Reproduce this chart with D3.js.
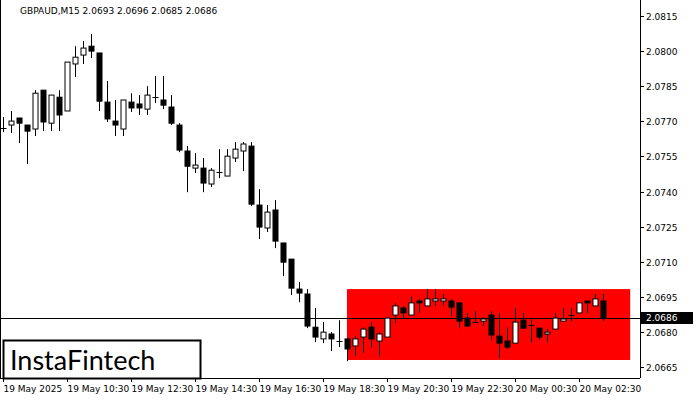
<!DOCTYPE html>
<html><head><meta charset="utf-8">
<script src="https://cdn.jsdelivr.net/npm/d3@7"></script>
<style>body{margin:0;background:#fff}svg{font-family:"DejaVu Sans",sans-serif}</style>
</head><body><svg id="c" width="700" height="400"></svg>
<script>
// candles as [open, high, low, close], 15 minute bars from 19 May 08:30
const opens  = [2.07667,2.07684,2.07714,2.07684,2.07667,2.07833,2.07692,2.07803,2.07744,2.07945,2.07983,2.08021,2.07992,2.07782,2.07701,2.07667,2.07782,2.07774,2.07752,2.07803,2.07791,2.07761,2.07684,2.07573,2.07500,2.07500,2.07432,2.07483,2.07466,2.07543,2.07573,2.07594,2.07342,2.07244,2.07321,2.07180,2.07111,2.06983,2.06962,2.06820,2.06770,2.06791,2.06761,2.06770,2.06740,2.06778,2.06820,2.06761,2.06778,2.06872,2.06902,2.06872,2.06932,2.06911,2.06932,2.06932,2.06932,2.06924,2.06859,2.06842,2.06846,2.06872,2.06782,2.06761,2.06752,2.06850,2.06829,2.06816,2.06791,2.06812,2.06846,2.06872,2.06881,2.06932,2.06911,2.06932];
const highs  = [2.07718,2.07744,2.07714,2.07684,2.07833,2.07833,2.07812,2.07833,2.07953,2.08021,2.08043,2.08073,2.07992,2.07872,2.07791,2.07791,2.07820,2.07812,2.07850,2.07893,2.07893,2.07812,2.07692,2.07594,2.07564,2.07543,2.07500,2.07581,2.07581,2.07611,2.07611,2.07611,2.07410,2.07342,2.07363,2.07180,2.07111,2.07013,2.06983,2.06902,2.06842,2.06799,2.06850,2.06770,2.06782,2.06820,2.06842,2.06799,2.06859,2.06924,2.06911,2.06953,2.06941,2.06983,2.06983,2.06962,2.06941,2.06924,2.06881,2.06889,2.06863,2.06889,2.06881,2.06820,2.06902,2.06881,2.06859,2.06816,2.06812,2.06881,2.06902,2.06902,2.06924,2.06932,2.06962,2.06962];
const lows   = [2.07654,2.07650,2.07607,2.07517,2.07637,2.07658,2.07658,2.07658,2.07744,2.07889,2.07945,2.07970,2.07744,2.07697,2.07637,2.07637,2.07740,2.07727,2.07727,2.07778,2.07752,2.07684,2.07568,2.07397,2.07479,2.07397,2.07419,2.07457,2.07466,2.07526,2.07487,2.07338,2.07197,2.07227,2.07158,2.07038,2.06958,2.06927,2.06816,2.06756,2.06752,2.06718,2.06735,2.06675,2.06696,2.06710,2.06735,2.06696,2.06778,2.06838,2.06859,2.06872,2.06881,2.06911,2.06911,2.06911,2.06868,2.06816,2.06825,2.06842,2.06825,2.06765,2.06688,2.06727,2.06752,2.06816,2.06756,2.06765,2.06756,2.06812,2.06846,2.06846,2.06881,2.06881,2.06911,2.06846];
const closes = [2.07671,2.07701,2.07692,2.07658,2.07820,2.07697,2.07812,2.07727,2.07953,2.07974,2.08013,2.08000,2.07786,2.07710,2.07684,2.07791,2.07757,2.07757,2.07812,2.07803,2.07769,2.07692,2.07577,2.07508,2.07513,2.07436,2.07491,2.07483,2.07551,2.07581,2.07603,2.07346,2.07248,2.07312,2.07188,2.07098,2.06987,2.06966,2.06825,2.06778,2.06799,2.06770,2.06761,2.06727,2.06770,2.06812,2.06770,2.06791,2.06859,2.06911,2.06881,2.06924,2.06924,2.06941,2.06941,2.06941,2.06906,2.06846,2.06825,2.06842,2.06855,2.06787,2.06752,2.06735,2.06842,2.06816,2.06829,2.06778,2.06799,2.06859,2.06855,2.06872,2.06924,2.06924,2.06941,2.06860];
const priceTicks = [2.0665,2.0680,2.0695,2.0710,2.0725,2.0740,2.0755,2.0770,2.0785,2.0800,2.0815];
const timeLabels = ["19 May 2025","19 May 10:30","19 May 12:30","19 May 14:30","19 May 16:30","19 May 18:30","19 May 20:30","19 May 22:30","20 May 00:30","20 May 02:30"];
const rangeBox = {from: 43, to: 78.4, top: 2.06983, bottom: 2.06680};
const lastPrice = 2.0686;
const title = "GBPAUD,M15  2.0693 2.0696 2.0685 2.0686";

const svg = d3.select("#c");
const W = 640, H = 378;
const x = d3.scaleLinear().domain([0, 1]).range([3, 11]);
const y = d3.scaleLinear().domain([2.0665, 2.0815]).range([367, 16]);

// range rectangle
svg.append("rect")
  .attr("x", x(rangeBox.from)).attr("width", x(rangeBox.to) - x(rangeBox.from))
  .attr("y", y(rangeBox.top)).attr("height", y(rangeBox.bottom) - y(rangeBox.top))
  .attr("fill", "#ff0000");

// current price line
svg.append("line").attr("x1", 0).attr("x2", W)
  .attr("y1", Math.round(y(lastPrice)) + 0.5).attr("y2", Math.round(y(lastPrice)) + 0.5)
  .attr("stroke", "#000");

const g = svg.append("g");
opens.forEach((o, i) => {
  const cx = Math.round(x(i)) + 0.5, c = closes[i];
  g.append("line").attr("x1", cx).attr("x2", cx)
    .attr("y1", y(highs[i])).attr("y2", y(lows[i])).attr("stroke", "#000");
  const top = y(Math.max(o, c)), bot = y(Math.min(o, c));
  if (bot - top < 1) {
    g.append("line").attr("x1", cx - 3).attr("x2", cx + 3)
      .attr("y1", Math.round(top) + 0.5).attr("y2", Math.round(top) + 0.5).attr("stroke", "#000");
  } else {
    g.append("rect").attr("x", cx - 2.5).attr("width", 5)
      .attr("y", top).attr("height", bot - top)
      .attr("fill", c >= o ? "#fff" : "#000").attr("stroke", "#000");
  }
});

// axes frame
svg.append("line").attr("x1", W + 0.5).attr("x2", W + 0.5).attr("y1", 0).attr("y2", H).attr("stroke", "#000");
svg.append("line").attr("x1", 0).attr("x2", W).attr("y1", H + 0.5).attr("y2", H + 0.5).attr("stroke", "#000");
svg.append("line").attr("x1", 0.5).attr("x2", 0.5).attr("y1", 0).attr("y2", H).attr("stroke", "#000");

const ya = svg.append("g").attr("font-size", 9);
priceTicks.forEach(p => {
  const yy = Math.round(y(p)) + 0.5;
  ya.append("line").attr("x1", W).attr("x2", W + 4).attr("y1", yy).attr("y2", yy).attr("stroke", "#000");
  ya.append("text").attr("x", W + 6).attr("y", yy + 3).text(p.toFixed(4));
});
const ly = Math.round(y(lastPrice));
svg.append("rect").attr("x", W + 1).attr("y", ly - 6).attr("width", 52).attr("height", 12).attr("fill", "#000");
svg.append("text").attr("x", W + 6).attr("y", ly + 3).attr("font-size", 9).attr("fill", "#fff").text(lastPrice.toFixed(4));

const xa = svg.append("g").attr("font-size", 9);
timeLabels.forEach((t, k) => {
  const xx = Math.round(x(k * 8)) + 0.5;
  xa.append("line").attr("x1", xx).attr("x2", xx).attr("y1", H).attr("y2", H + 4).attr("stroke", "#000");
  xa.append("text").attr("x", xx).attr("y", H + 14).text(t);
});

svg.append("text").attr("x", 20).attr("y", 14).attr("font-size", 9).text(title);

// logo
svg.append("rect").attr("x", 3.5).attr("y", 340.5).attr("width", 197).attr("height", 38)
  .attr("fill", "#fff").attr("stroke", "#000").attr("stroke-width", 2);
svg.append("text").attr("x", 10).attr("y", 370).attr("font-size", 27)
  .attr("font-family", "Lato, 'Open Sans', sans-serif").text("InstaFintech");
</script></body></html>
